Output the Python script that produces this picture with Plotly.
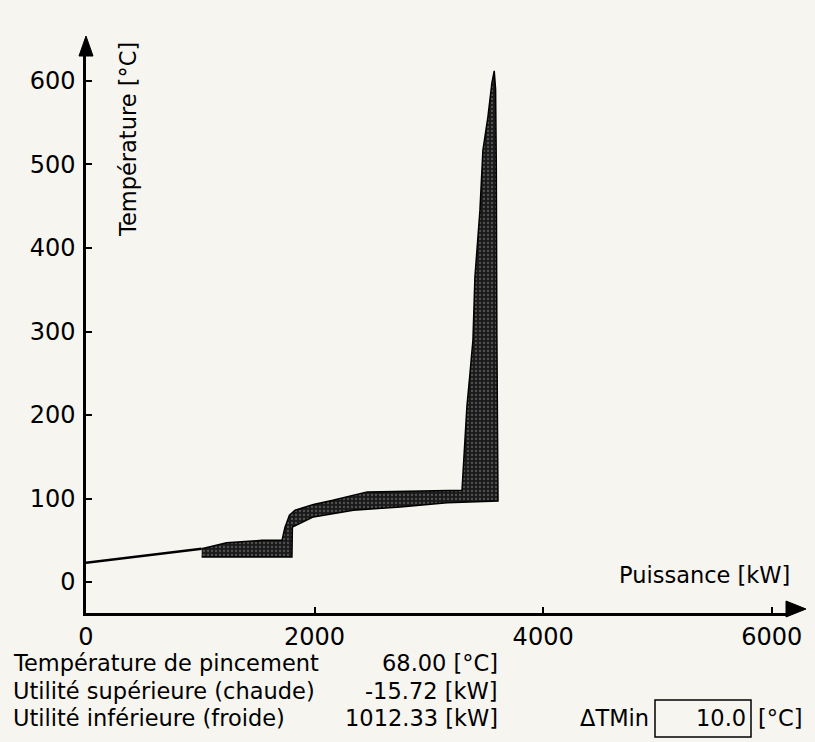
import plotly.graph_objects as go

# Composite curves (heat load in kW, temperature in °C)
hot_q = [0, 250, 500, 750, 1012, 1230, 1540, 1715, 1740, 1780, 1830, 1990, 2160, 2340, 2460,
         3290, 3316, 3333, 3360, 3386, 3403, 3447, 3473, 3517, 3552, 3572]
hot_t = [23, 27, 31, 35, 40, 47, 50, 50, 65, 80, 86, 93, 98, 104, 108,
         110, 170, 210, 250, 290, 365, 445, 517, 557, 598, 612]

cold_q = [1012, 1802, 1806, 1990, 2340, 2750, 3160, 3605, 3600, 3595, 3590, 3584, 3572]
cold_t = [30, 30, 66, 78, 86, 90, 95, 97, 130, 300, 500, 590, 612]

x_ticks = [0, 2000, 4000, 6000]
y_ticks = [0, 100, 200, 300, 400, 500, 600]

summary_labels = ["Température de pincement", "Utilité supérieure (chaude)", "Utilité inférieure (froide)"]
summary_values = ["68.00 [°C]", "-15.72 [kW]", "1012.33 [kW]"]
dt_min = "10.0"

W, H = 815, 742
L, R, T, B = 86, 25, 45, 129
PW, PH = W - L - R, H - T - B
FONT = "DejaVu Sans"
BG = "#f6f5f0"


def px(x):
    return (x - L) / PW


def py(y):
    return (H - B - y) / PH


fig = go.Figure()

# Hot curve below the start of the cold curve (cold utility zone)
i0 = hot_q.index(cold_q[0])
fig.add_trace(go.Scatter(
    x=hot_q[:i0 + 1], y=hot_t[:i0 + 1], mode="lines",
    line=dict(color="black", width=2.5), hoverinfo="skip", showlegend=False,
))

# Shaded area between the hot and cold composite curves
band_q = hot_q[i0:] + cold_q[::-1]
band_t = hot_t[i0:] + cold_t[::-1]
fig.add_trace(go.Scatter(
    x=band_q, y=band_t, mode="lines", fill="toself",
    fillcolor="#1a1a1a",
    fillpattern=dict(shape=".", fgcolor="#8c8c8c", bgcolor="#1a1a1a", size=4, solidity=0.25),
    line=dict(color="black", width=1.5), hoverinfo="skip", showlegend=False,
))

axis_common = dict(
    showline=True, linecolor="black", linewidth=2.5, showgrid=False, zeroline=False,
    ticks="inside", ticklen=6, tickwidth=2, tickcolor="black",
    tickfont=dict(family=FONT, size=24, color="black"),
)
fig.update_xaxes(range=[0, 6160], tickvals=x_ticks, ticktext=[str(v) for v in x_ticks], **axis_common)
fig.update_yaxes(range=[-37, 643], tickvals=y_ticks, ticktext=[str(v) for v in y_ticks],
                 ticklabelstandoff=3, **axis_common)

# Axis arrow heads and the ΔTMin input box
shapes = [
    dict(type="path", xref="paper", yref="paper", fillcolor="black", line=dict(color="black", width=1),
         path=f"M {px(86)} {py(36)} L {px(79)} {py(56)} L {px(93)} {py(56)} Z"),
    dict(type="path", xref="paper", yref="paper", fillcolor="black", line=dict(color="black", width=1),
         path=f"M {px(806)} {py(609)} L {px(786)} {py(601)} L {px(786)} {py(617)} Z"),
    dict(type="rect", xref="paper", yref="paper", x0=px(655), x1=px(751), y0=py(700), y1=py(737),
         line=dict(color="black", width=1.5), layer="below"),
]

txt = dict(family=FONT, size=22.5, color="black")


def note(text, x, y, xanchor="left", **kw):
    return dict(text=text, x=px(x), y=py(y), xref="paper", yref="paper",
                xanchor=xanchor, yanchor="middle", showarrow=False, font=txt, **kw)


annotations = [
    note("Température [°C]", 128, 140, xanchor="center", textangle=-90),
    note("Puissance [kW]", 792, 575, xanchor="right"),
]
for i, (lab, val) in enumerate(zip(summary_labels, summary_values)):
    yy = 663 + i * 27.5
    annotations.append(note(lab, 11, yy, xanchor="left"))
    annotations.append(note(val, 500, yy, xanchor="right"))
annotations += [
    note("ΔTMin", 651, 718, xanchor="right"),
    note(dt_min, 748, 718, xanchor="right"),
    note("[°C]", 756, 718, xanchor="left"),
]

fig.update_layout(
    width=W, height=H, margin=dict(l=L, r=R, t=T, b=B),
    paper_bgcolor=BG, plot_bgcolor=BG,
    shapes=shapes, annotations=annotations, showlegend=False,
)

fig.write_html("out.html")
